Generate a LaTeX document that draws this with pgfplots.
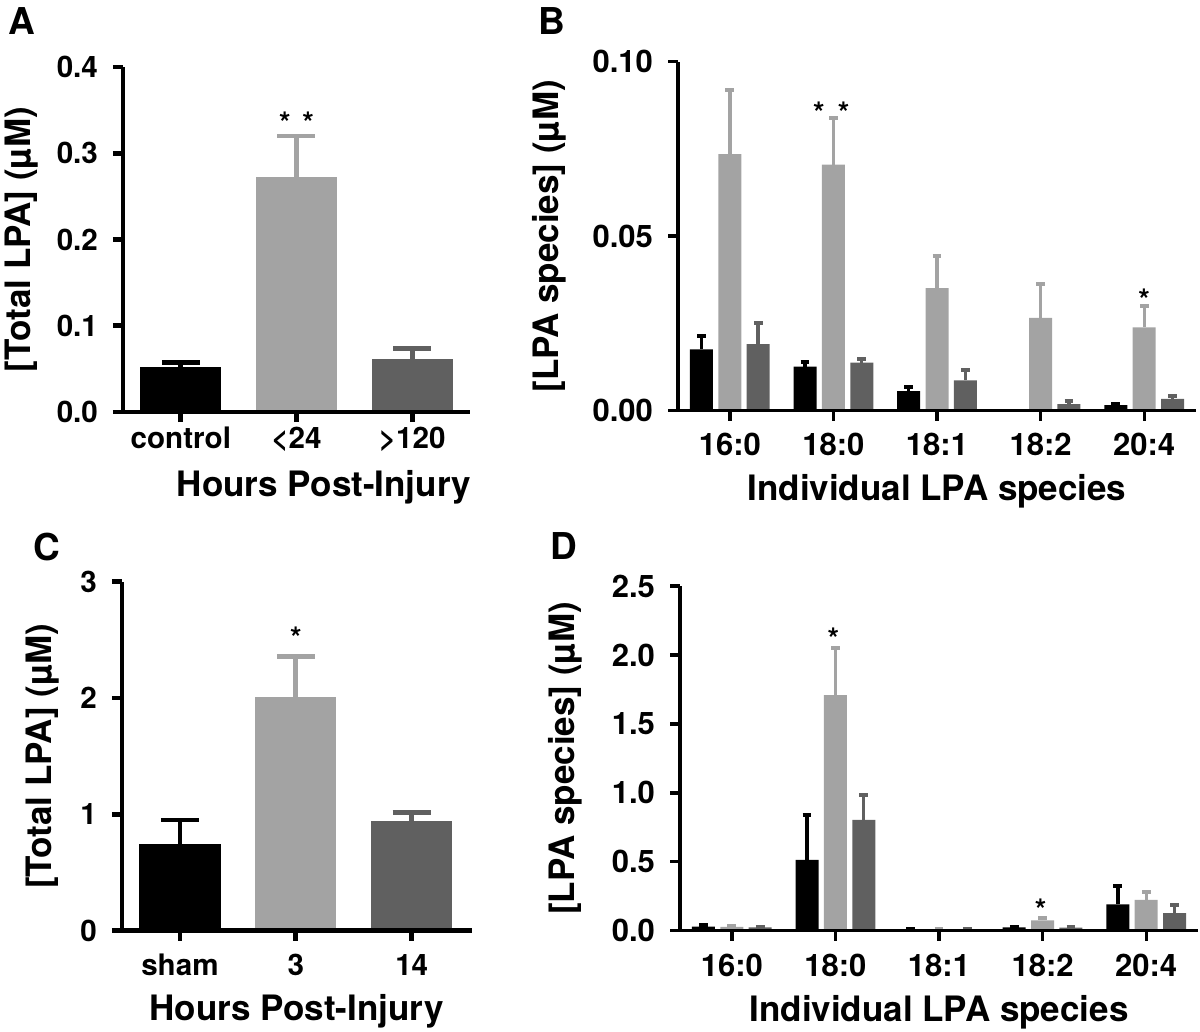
\documentclass[border=0pt]{standalone}
\usepackage{fontspec}
\setmainfont{TeX Gyre Heros}
\usepackage{pgfplots}
\pgfplotsset{compat=1.18}
\definecolor{lg}{HTML}{A3A3A3}
\definecolor{dg}{HTML}{606060}
\newcommand\tickfont{\bfseries\fontsize{14.8}{16}\selectfont}
\newcommand\tickfontB{\bfseries\fontsize{15.5}{17}\selectfont}
\newcommand\labfont{\bfseries\fontsize{17.5}{20}\selectfont}
\newcommand\panfont{\bfseries\fontsize{18.5}{20}\selectfont}
\pgfplotsset{
  panel/.style={
    scale only axis,
    axis x line*=bottom, axis y line*=left,
    axis line style={-, line width=#1},
    tick style={line width=#1, black},
    tick align=outside,
    major tick length=5pt,
    axis on top,
    enlargelimits=false,
    label style={font=\labfont},
    /pgf/number format/assume math mode=true,
    ymin=0, clip=false,
  },
  barbig/.style={ybar, bar width=0.7, bar shift=0pt, fill=#1, draw=none,
    error bars/y dir=plus, error bars/y explicit,
    error bars/error bar style={line width=2.4pt, #1, solid},
    error bars/error mark options={rotate=90, line width=2.4pt, #1, mark size=9.5pt, solid}},
  barsmall/.style={ybar, bar width=0.222, bar shift=0pt, fill=#1, draw=none,
    error bars/y dir=plus, error bars/y explicit,
    error bars/error bar style={line width=1.7pt, #1, solid},
    error bars/error mark options={rotate=90, line width=2pt, #1, mark size=2.2pt, solid}},
}
\begin{document}
\begin{tikzpicture}
\path[use as bounding box] (0,0) rectangle (600pt,-516pt);

% ---------- A ----------
\node[anchor=base west, font=\panfont] at (0.5pt,-17.5pt) {A};
\begin{axis}[panel=2.4pt, at={(61.5pt,-206pt)}, anchor=south west,
  width=173.5pt, height=172.5pt,
  tick label style={font=\tickfont},
  xmin=-0.5, xmax=2.5, ymax=0.4,
  xtick={0,1,2}, xticklabels={control,{<24},{>120}},
  xticklabel style={anchor=base, yshift=-13pt},
  ytick={0,0.1,0.2,0.3,0.4}, yticklabels={0.0,0.1,0.2,0.3,0.4},
  yticklabel style={xshift=-4pt},
  xlabel={Hours Post-Injury}, ylabel={[Total LPA] (µM)},
  xlabel style={at={(axis description cs:0.579,-0.246)}, anchor=base},
  ylabel style={at={(axis description cs:-0.291,0.5)}, anchor=center},
]
\addplot[barbig=black] coordinates {(0,0.052) +- (0,0.005)};
\addplot[barbig=lg] coordinates {(1,0.272) +- (0,0.048)};
\addplot[barbig=dg] coordinates {(2,0.062) +- (0,0.012)};
\node[font=\tickfont] at (axis cs:1,0.335) {*\hspace{0.4em}*};
\end{axis}

% ---------- B ----------
\node[anchor=base west, font=\panfont] at (265.5pt,-17.5pt) {B};
\begin{axis}[panel=1.7pt, at={(339pt,-205.35pt)}, anchor=south west,
  width=259pt, height=174.5pt,
  tick label style={font=\tickfontB},
  xmin=-0.5, xmax=4.5, ymax=0.1,
  xtick={0,1,2,3,4}, xticklabels={16:0,18:0,18:1,18:2,20:4},
  xticklabel style={anchor=base, yshift=-17.2pt},
  ytick={0,0.05,0.1}, yticklabels={0.00,0.05,0.10},
  yticklabel style={xshift=-4pt},
  xlabel={Individual LPA species}, ylabel={[LPA species] (µM)},
  xlabel style={at={(axis description cs:0.5,-0.256)}, anchor=base},
  ylabel style={at={(axis description cs:-0.249,0.5)}, anchor=center},
]
\addplot[barsmall=black] coordinates {
  (-0.274,0.0176) +- (0,0.0039)
  (0.726,0.0126) +- (0,0.0014)
  (1.726,0.0056) +- (0,0.0013)
  (3.726,0.0016) +- (0,0.0002)};
\addplot[barsmall=lg] coordinates {
  (0,0.0735) +- (0,0.0184)
  (1,0.0705) +- (0,0.0135)
  (2,0.0351) +- (0,0.0092)
  (3,0.0266) +- (0,0.0097)
  (4,0.0239) +- (0,0.0062)};
\addplot[barsmall=dg] coordinates {
  (0.274,0.0191) +- (0,0.0059)
  (1.274,0.0138) +- (0,0.0010)
  (2.274,0.0087) +- (0,0.0030)
  (3.274,0.0019) +- (0,0.0009)
  (4.274,0.0034) +- (0,0.0008)};
\node[font=\tickfont] at (axis cs:0.98,0.0855) {*\hspace{0.45em}*};
\node[font=\tickfont] at (axis cs:4,0.0318) {*};
\end{axis}

% ---------- C ----------
\node[anchor=base west, font=\panfont] at (13pt,-280pt) {C};
\begin{axis}[panel=2.4pt, at={(61pt,-465.35pt)}, anchor=south west,
  width=175pt, height=174.5pt,
  tick label style={font=\tickfont},
  xmin=-0.5, xmax=2.52, ymax=3,
  xtick={0,1,2}, xticklabels={sham,3,14},
  xticklabel style={anchor=base, yshift=-17.2pt},
  ytick={0,1,2,3}, yticklabels={0,1,2,3},
  yticklabel style={xshift=-4pt},
  xlabel={Hours Post-Injury}, ylabel={[Total LPA] (µM)},
  xlabel style={at={(axis description cs:0.499,-0.256)}, anchor=base},
  ylabel style={at={(axis description cs:-0.226,0.5)}, anchor=center},
]
\addplot[barbig=black] coordinates {(0,0.742) +- (0,0.209)};
\addplot[barbig=lg] coordinates {(1,2.011) +- (0,0.349)};
\addplot[barbig=dg] coordinates {(2,0.946) +- (0,0.071)};
\node[font=\tickfont] at (axis cs:1,2.52) {*};
\end{axis}

% ---------- D ----------
\node[anchor=base west, font=\panfont] at (271.5pt,-279.5pt) {D};
\begin{axis}[panel=1.7pt, at={(340pt,-465.35pt)}, anchor=south west,
  width=259pt, height=172.35pt,
  tick label style={font=\tickfontB},
  xmin=-0.5, xmax=4.5, ymax=2.5,
  xtick={0,1,2,3,4}, xticklabels={16:0,18:0,18:1,18:2,20:4},
  xticklabel style={anchor=base, yshift=-18.1pt},
  ytick={0,0.5,1,1.5,2,2.5}, yticklabels={0.0,0.5,1.0,1.5,2.0,2.5},
  yticklabel style={xshift=-4pt},
  xlabel={Individual LPA species}, ylabel={[LPA species] (µM)},
  xlabel style={at={(axis description cs:0.5,-0.264)}, anchor=base},
  ylabel style={at={(axis description cs:-0.222,0.5)}, anchor=center},
]
\addplot[barsmall=black] coordinates {
  (-0.274,0.030) +- (0,0.010)
  (0.726,0.513) +- (0,0.326)
  (1.726,0.012) +- (0,0.002)
  (2.726,0.025) +- (0,0.004)
  (3.726,0.191) +- (0,0.135)};
\addplot[barsmall=lg] coordinates {
  (0,0.028) +- (0,0.003)
  (1,1.709) +- (0,0.339)
  (2,0.011) +- (0,0.002)
  (3,0.075) +- (0,0.017)
  (4,0.223) +- (0,0.060)};
\addplot[barsmall=dg] coordinates {
  (0.274,0.025) +- (0,0.002)
  (1.274,0.803) +- (0,0.181)
  (2.274,0.010) +- (0,0.002)
  (3.274,0.022) +- (0,0.003)
  (4.274,0.128) +- (0,0.062)};
\node[font=\tickfont] at (axis cs:0.98,2.12) {*};
\node[font=\tickfont] at (axis cs:2.98,0.15) {*};
\end{axis}
\end{tikzpicture}
\end{document}
